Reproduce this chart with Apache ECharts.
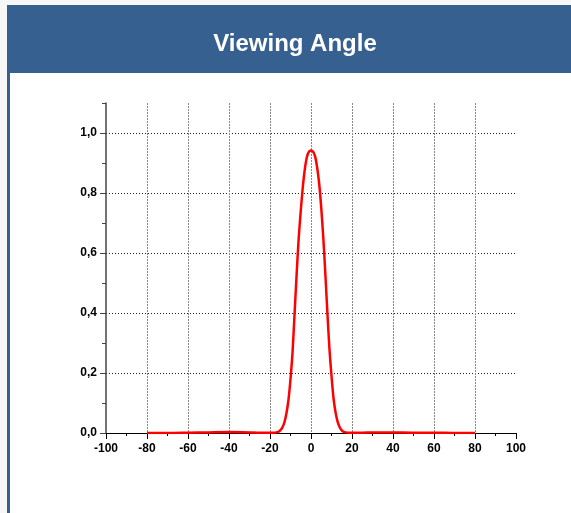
<!DOCTYPE html>
<html>
<head>
<meta charset="utf-8">
<script src="https://cdn.jsdelivr.net/npm/echarts@6/dist/echarts.min.js"></script>
<style>
html,body{margin:0;padding:0;background:#f7f7f7;}
#chart{width:571px;height:513px;}
</style>
</head>
<body>
<div id="chart"></div>
<script>
// Data
const chartTitle = "Viewing Angle";
const angles = [-80,-70,-60,-50,-40,-30,-25,-20,-18,-17,-16,-15,-14,-13,-12,-11,-10,-9,-8,-7,-6,-5,-4,-3,-2,-1,0,1,2,3,4,5,6,7,8,9,10,11,12,13,14,15,16,17,18,20,25,30,40,50,60,70,80];
const intensity = [0,0,0.001,0.002,0.003,0.002,0.001,0.001,0.001,0.002,0.004,0.009,0.018,0.035,0.065,0.11,0.18,0.27,0.40,0.53,0.65,0.74,0.82,0.88,0.92,0.938,0.942,0.938,0.922,0.885,0.83,0.75,0.65,0.53,0.40,0.28,0.19,0.115,0.068,0.037,0.019,0.009,0.004,0.002,0.001,0.001,0.001,0.002,0.002,0.001,0.001,0,0];
const xTicks = [-100,-80,-60,-40,-20,0,20,40,60,80,100];
const yTicks = [0,0.2,0.4,0.6,0.8,1.0];

const FONT = "'Liberation Sans', Arial, Helvetica, sans-serif";
const BLUE = '#36608f';

const chart = echarts.init(document.getElementById('chart'), null, {renderer:'canvas'});
const option = {
  backgroundColor: '#f7f7f7',
  animation: false,
  textStyle: {fontFamily: FONT},
  graphic: [
    {type:'rect', shape:{x:7,y:5,width:564,height:508}, style:{fill:'#ffffff'}, z:-10},
    {type:'rect', shape:{x:7,y:5,width:564,height:68}, style:{fill:BLUE}, z:-9},
    {type:'rect', shape:{x:7,y:5,width:3,height:508}, style:{fill:BLUE}, z:-9}
  ],
  title: {
    text: chartTitle,
    left: 290,
    top: 27,
    textAlign: 'center',
    textStyle: {color:'#ffffff', fontSize:24, fontWeight:'bold', fontFamily: FONT}
  },
  grid: {left:106, right:55, top:103, bottom:80, containLabel:false},
  xAxis: {
    type:'value', min:-100, max:100, interval:20,
    axisLine:{show:true, onZero:false, lineStyle:{color:'#000', width:1}},
    axisTick:{show:true, length:6, lineStyle:{color:'#000', width:1}},
    minorTick:{show:true, splitNumber:2, length:3, lineStyle:{color:'#000', width:1}},
    axisLabel:{color:'#000', fontWeight:'bold', fontSize:12, margin:10, fontFamily:FONT,
      formatter: v => xTicks.indexOf(v) >= 0 ? String(v) : ''},
    splitLine:{show:true, showMinLine:false, showMaxLine:false, lineStyle:{color:'#888', type:[2,1], width:1}}
  },
  yAxis: [
    {
      type:'value', min:0, max:1.1, interval:0.2,
      axisLine:{show:true, onZero:false, lineStyle:{color:'#444', width:1.5}},
      axisTick:{show:true, length:6, lineStyle:{color:'#444', width:1}},
      axisLabel:{color:'#000', fontWeight:'bold', fontSize:12, margin:9, fontFamily:FONT, showMaxLabel:false,
        formatter: v => yTicks.some(t => Math.abs(t - v) < 1e-6) ? v.toFixed(1).replace('.', ',') : ''},
      splitLine:{show:true, showMinLine:false, showMaxLine:false, lineStyle:{color:'#222', type:[1,2], width:1}}
    },
    {
      type:'value', min:0, max:1.1, interval:0.1, position:'left',
      axisLine:{show:false, onZero:false},
      axisTick:{show:true, length:4, lineStyle:{color:'#444', width:1}},
      axisLabel:{show:false},
      splitLine:{show:false}
    }
  ],
  series: [{
    type:'line',
    xAxisIndex:0, yAxisIndex:0,
    data: angles.map((a,i) => [a, intensity[i]]),
    showSymbol:false,
    smooth:0.25,
    lineStyle:{color:'#ff0000', width:2.5},
    itemStyle:{color:'#ff0000'},
    z:5
  }]
};
chart.setOption(option);
</script>
</body>
</html>
